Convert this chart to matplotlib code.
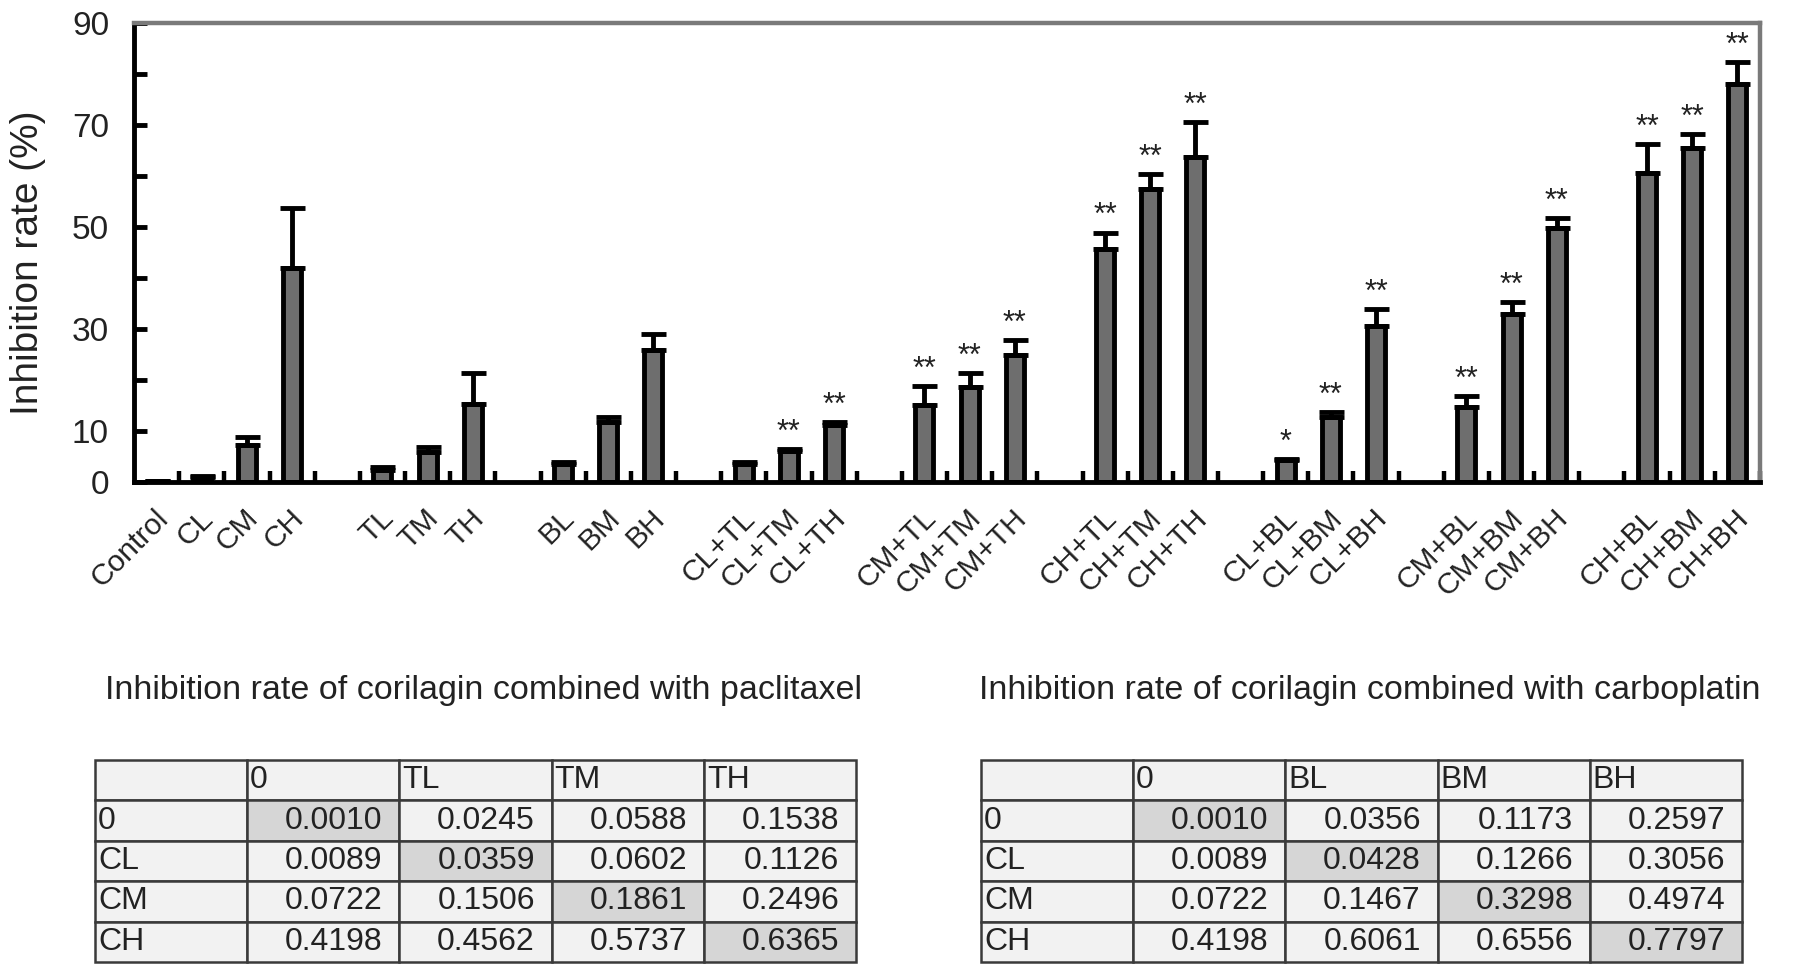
import matplotlib
matplotlib.use("Agg")
import matplotlib.pyplot as plt
import matplotlib.transforms as mtransforms
from matplotlib.ticker import FixedLocator, FixedFormatter
import numpy as np

plt.rcParams['font.family'] = ['Liberation Sans', 'DejaVu Sans']

# ---------------- data ----------------
groups = [
    ["Control", "CL", "CM", "CH"],
    ["TL", "TM", "TH"],
    ["BL", "BM", "BH"],
    ["CL+TL", "CL+TM", "CL+TH"],
    ["CM+TL", "CM+TM", "CM+TH"],
    ["CH+TL", "CH+TM", "CH+TH"],
    ["CL+BL", "CL+BM", "CL+BH"],
    ["CM+BL", "CM+BM", "CM+BH"],
    ["CH+BL", "CH+BM", "CH+BH"],
]
means = [0.10, 0.89, 7.22, 41.98,
         2.45, 5.88, 15.38,
         3.56, 11.73, 25.97,
         3.59, 6.02, 11.26,
         15.06, 18.61, 24.96,
         45.62, 57.37, 63.65,
         4.28, 12.66, 30.56,
         14.67, 32.98, 49.74,
         60.61, 65.56, 77.97]
errors = [0.1, 0.3, 1.6, 11.8,
          0.4, 1.0, 5.9,
          0.4, 1.0, 3.0,
          0.3, 0.4, 0.5,
          3.7, 2.8, 2.9,
          3.3, 3.0, 7.0,
          0.3, 1.1, 3.3,
          2.1, 2.3, 2.0,
          5.6, 2.6, 4.3]
signif = ["", "", "", "",
          "", "", "",
          "", "", "",
          "", "**", "**",
          "**", "**", "**",
          "**", "**", "**",
          "*", "**", "**",
          "**", "**", "**",
          "**", "**", "**"]

yticks = [0, 10, 20, 30, 40, 50, 60, 70, 80, 90]
yticklabels = ["0", "10", "", "30", "", "50", "", "70", "", "90"]

title_T = "Inhibition rate of corilagin combined with paclitaxel"
title_B = "Inhibition rate of corilagin combined with carboplatin"
row_labels = ["0", "CL", "CM", "CH"]
cols_T = ["0", "TL", "TM", "TH"]
cols_B = ["0", "BL", "BM", "BH"]
vals_T = [["0.0010", "0.0245", "0.0588", "0.1538"],
          ["0.0089", "0.0359", "0.0602", "0.1126"],
          ["0.0722", "0.1506", "0.1861", "0.2496"],
          ["0.4198", "0.4562", "0.5737", "0.6365"]]
vals_B = [["0.0010", "0.0356", "0.1173", "0.2597"],
          ["0.0089", "0.0428", "0.1266", "0.3056"],
          ["0.0722", "0.1467", "0.3298", "0.4974"],
          ["0.4198", "0.6061", "0.6556", "0.7797"]]

# positions: consecutive within group, one empty slot between groups
labels, positions = [], []
p = 0
for g in groups:
    for name in g:
        labels.append(name)
        positions.append(p)
        p += 1
    p += 1
positions = np.array(positions, dtype=float)
means = np.array(means)
errors = np.array(errors)

# ---------------- figure ----------------
W, H = 1795, 974
fig = plt.figure(figsize=(W / 100, H / 100), dpi=100)
ax = fig.add_axes([134 / W, 1 - 482 / H, (1760 - 134) / W, (482 - 23) / H])

ax.bar(positions, means, width=0.40, color='#6e6e6e', edgecolor='black',
       linewidth=3.5, zorder=2)
ax.errorbar(positions, means, yerr=[np.zeros_like(errors), errors], fmt='none',
            ecolor='black', elinewidth=3.5, capsize=9, capthick=3.5, zorder=3)

for x, m, e, s in zip(positions, means, errors, signif):
    if s:
        ax.text(x, m + e + 1.6, s, ha='center', va='baseline', fontsize=22,
                color='#222222')

ax.set_xlim(positions[0] - 0.5, positions[-1] + 0.5)
ax.set_ylim(0, 90)

ax.yaxis.set_major_locator(FixedLocator(yticks))
ax.yaxis.set_major_formatter(FixedFormatter(yticklabels))
ax.tick_params(axis='y', which='major', direction='in', length=9, width=3.5,
               labelsize=24, pad=18, colors='black', labelcolor='#222222')

ax.set_xticks(positions)
ax.set_xticklabels(labels)
ax.set_xticks(np.arange(positions[0] + 0.5, positions[-1] + 0.51, 1.0), minor=True)
ax.tick_params(axis='x', which='major', length=0, labelsize=21.5, pad=23,
               labelcolor='#222222')
ax.tick_params(axis='x', which='minor', direction='in', length=8, width=3.2,
               colors='black')
offset = mtransforms.ScaledTranslation(0.07, 0, fig.dpi_scale_trans)
for lab in ax.get_xticklabels():
    lab.set_rotation(45)
    lab.set_ha('right')
    lab.set_va('center')
    lab.set_rotation_mode('anchor')
    lab.set_transform(lab.get_transform() + offset)

for side in ['left', 'bottom']:
    ax.spines[side].set_linewidth(3.5)
    ax.spines[side].set_color('black')
for side in ['top', 'right']:
    ax.spines[side].set_linewidth(3.2)
    ax.spines[side].set_color('#7a7a7a')

fig.text(28 / W, 1 - 263 / H, "Inhibition rate (%)", rotation=90,
         ha='center', va='center', fontsize=28, color='#222222')

# ---------------- tables ----------------
def draw_table(left_px, title_px, cols, vals, title):
    tax = fig.add_axes([left_px / W, 1 - 962 / H, 761 / W, 202 / H])
    tax.axis('off')
    cell_text = [[""] + cols] + [[r] + row for r, row in zip(row_labels, vals)]
    colours = []
    for i in range(5):
        rowc = []
        for j in range(5):
            if i >= 1 and j >= 1 and i == j:
                rowc.append('#d6d6d6')
            else:
                rowc.append('#f2f2f2')
        colours.append(rowc)
    tab = tax.table(cellText=cell_text, cellColours=colours, bbox=[0, 0, 1, 1],
                    cellLoc='right')
    tab.auto_set_font_size(False)
    tab.set_fontsize(23)
    for (i, j), cell in tab.get_celld().items():
        cell.set_edgecolor('#3a3a3a')
        cell.set_linewidth(1.8)
        cell.get_text().set_color('#222222')
        if i == 0 or j == 0:
            cell.get_text().set_ha('left')
            cell.PAD = 0.02
        else:
            cell.get_text().set_ha('right')
            cell.PAD = 0.11
    fig.text(title_px / W, 1 - 691 / H, title, ha='left', va='center',
             fontsize=24.5, color='#222222')

draw_table(95, 105, cols_T, vals_T, title_T)
draw_table(981, 979, cols_B, vals_B, title_B)

fig.savefig("out.png", dpi=100)
